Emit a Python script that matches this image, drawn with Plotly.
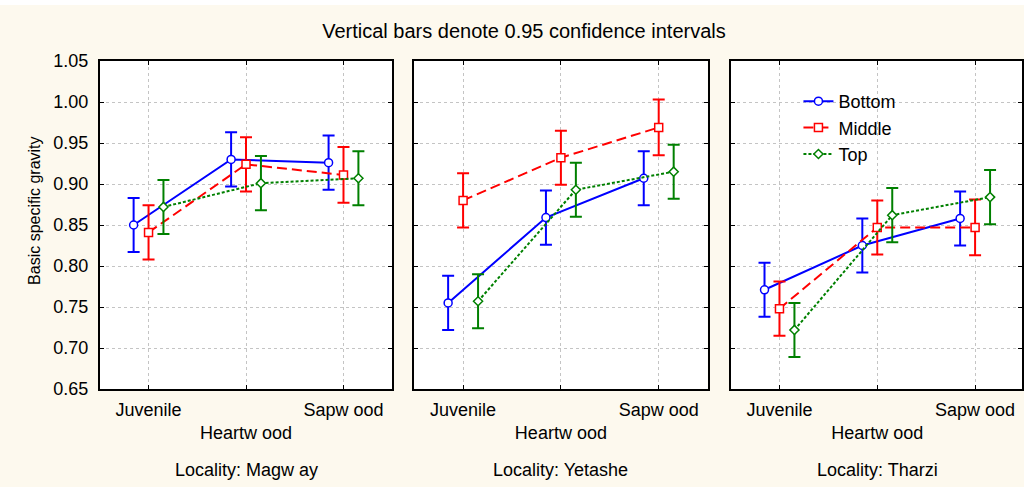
import plotly.graph_objects as go

# ---- data ----
categories = ["Juvenile", "Heartw ood", "Sapw ood"]
tick_text = ["Juvenile", "<br>Heartw ood", "Sapw ood"]
localities = ["Locality: Magw ay", "Locality: Yetashe", "Locality: Tharzi"]
series_names = ["Bottom", "Middle", "Top"]

magway_bottom = [0.850, 0.930, 0.926]
magway_middle = [0.841, 0.924, 0.911]
magway_top = [0.872, 0.901, 0.907]

yetashe_bottom = [0.755, 0.859, 0.907]
yetashe_middle = [0.880, 0.932, 0.969]
yetashe_top = [0.757, 0.893, 0.915]

tharzi_bottom = [0.771, 0.825, 0.858]
tharzi_middle = [0.748, 0.847, 0.847]
tharzi_top = [0.722, 0.862, 0.884]

ci_bottom = [0.033, 0.033, 0.033]
ci_middle = [0.033, 0.033, 0.034]
ci_top = [0.033, 0.033, 0.033]

y_ticks = [0.65, 0.70, 0.75, 0.80, 0.85, 0.90, 0.95, 1.00, 1.05]

panels = [
    [magway_bottom, magway_middle, magway_top],
    [yetashe_bottom, yetashe_middle, yetashe_top],
    [tharzi_bottom, tharzi_middle, tharzi_top],
]
cis = [ci_bottom, ci_middle, ci_top]

# ---- styles ----
colors = ["#0000ff", "#ff0000", "#008000"]
dashes = ["solid", "10px,5px", "3px,2px"]
symbols = ["circle", "square", "diamond"]
msizes = [8, 8, 7]
offsets = [-0.153, 0.0, 0.153]
FONT = "Liberation Sans, Arial, sans-serif"
BEIGE = "#fdf9ee"

W, H = 1024, 487
TOP, BOTTOM = 61, 389
PH = BOTTOM - TOP
domains = [[100 / W, 393 / W], [415 / W, 709 / W], [732 / W, 1.0]]
xranges = [[-0.5, 2.5], [-0.5, 2.5], [-0.5, -0.5 + 292 / 98.0]]


def py(pix):
    """pixel row -> paper y coordinate"""
    return (BOTTOM - pix) / PH


fig = go.Figure()
for p, vals in enumerate(panels):
    xa = "x" if p == 0 else f"x{p+1}"
    ya = "y" if p == 0 else f"y{p+1}"
    for s in range(3):
        fig.add_trace(go.Scatter(
            x=[i + offsets[s] for i in range(len(categories))],
            y=vals[s],
            mode="lines+markers",
            name=series_names[s],
            legendgroup=series_names[s],
            showlegend=(p == 0),
            line=dict(color=colors[s], width=2, dash=dashes[s]),
            marker=dict(symbol=symbols[s], size=msizes[s], color="white",
                        line=dict(color=colors[s], width=1.5)),
            error_y=dict(type="data", array=cis[s], color=colors[s],
                         thickness=2, width=6),
            xaxis=xa, yaxis=ya,
        ))

axis_common = dict(
    showline=True, linecolor="black", linewidth=2, mirror="allticks",
    ticks="inside", ticklen=4, tickcolor="black", tickwidth=1,
    showgrid=True, gridcolor="#c4c4c4", griddash="dot", gridwidth=1,
    zeroline=False, tickfont=dict(family=FONT, size=18, color="black"),
)

layout = dict(
    width=W, height=H, autosize=False,
    margin=dict(l=0, r=0, t=TOP, b=H - BOTTOM, pad=0),
    paper_bgcolor=BEIGE, plot_bgcolor="white",
    font=dict(family=FONT, color="black"),
    title=dict(text="Vertical bars denote 0.95 confidence intervals",
               x=525 / W, xanchor="center", xref="paper",
               y=1 - 31 / H, yanchor="middle", yref="container",
               font=dict(family=FONT, size=20, color="black")),
    showlegend=True,
    legend=dict(x=800 / W, xanchor="left", y=py(83),
                yanchor="top", bgcolor="rgba(0,0,0,0)", borderwidth=0,
                font=dict(family=FONT, size=18, color="black"),
                tracegroupgap=0),
)

for p in range(3):
    xk = "xaxis" if p == 0 else f"xaxis{p+1}"
    yk = "yaxis" if p == 0 else f"yaxis{p+1}"
    layout[xk] = dict(axis_common, domain=domains[p], range=xranges[p],
                      tickvals=list(range(len(categories))), ticktext=tick_text,
                      anchor="y" if p == 0 else f"y{p+1}",
                      ticklabelstandoff=3)
    layout[yk] = dict(axis_common, domain=[0, 1], range=[0.65, 1.05],
                      tickvals=y_ticks, tickformat=".2f",
                      anchor="x" if p == 0 else f"x{p+1}",
                      showticklabels=(p == 0), ticklabelstandoff=6)

fig.update_layout(**layout)

# locality labels under each panel
for p in range(3):
    fig.add_annotation(text=localities[p], xref=("x domain" if p == 0 else f"x{p+1} domain"),
                       x=0.5 if p < 2 else 0.5 * 294 / 292, xanchor="center",
                       yref="paper", y=py(470), yanchor="middle",
                       showarrow=False, font=dict(family=FONT, size=18, color="black"))

# y-axis label
fig.add_annotation(text="Basic specific gravity", textangle=-90,
                   xref="paper", x=34 / W, xanchor="center",
                   yref="paper", y=py(210), yanchor="middle",
                   showarrow=False, font=dict(family=FONT, size=16, color="black"))

# white strip at the top of the figure (page above the chart)
fig.add_shape(type="rect", xref="paper", yref="paper",
              x0=-0.01, x1=1.01, y0=py(5), y1=py(-2),
              fillcolor="white", line=dict(width=0), layer="below")

fig.write_html(
    "out.html",
    config={"displayModeBar": False},
    post_script="document.body.style.margin='0';document.body.style.overflow='hidden';",
)
